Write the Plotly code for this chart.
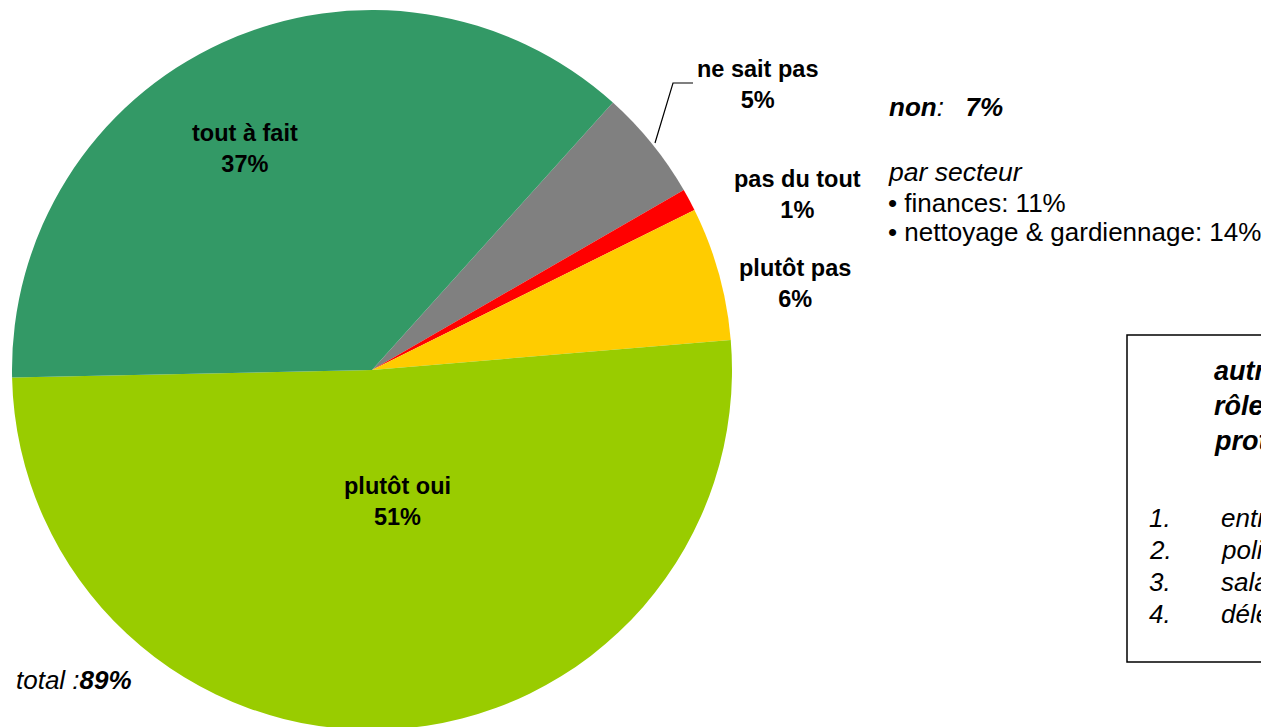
import plotly.graph_objects as go

# Daten der Torte (im Uhrzeigersinn, ab "ne sait pas")
categories = ["ne sait pas", "pas du tout", "plutôt pas", "plutôt oui", "tout à fait"]
values = [5, 1, 6, 51, 37]
colors = ["#808080", "#FF0000", "#FFCC00", "#99CC00", "#339966"]

# Texte rechts
non_total = "7%"
oui_total = "89%"
secteurs = ["finances: 11%", "nettoyage & gardiennage: 14%"]
box_title = ["autres acteurs ayant un", "rôle dans la", "protection"]
box_items = ["entreprise", "politique", "salariés", "délégués"]

W, H = 1269, 727
OFF = 8  # Seitenrand des Browsers
FONT = "Liberation Sans"


def px(x, y):
    # Pixel (Bildschirm) -> Papierkoordinaten
    return (x - OFF) / W, 1 - (y - OFF) / H


fig = go.Figure(go.Pie(
    labels=categories,
    values=values,
    sort=False,
    direction="clockwise",
    rotation=42,
    marker=dict(colors=colors, line=dict(width=0)),
    textinfo="none",
    hoverinfo="label+percent",
    domain=dict(x=[(12 - OFF) / W, (732 - OFF) / W], y=[5 / H, 1 - 2 / H]),
    showlegend=False,
))

# Beschriftungen der Segmente (Mitte der zwei Zeilen)
label_pos = {
    "ne sait pas": (757, 84),
    "pas du tout": (797, 194),
    "plutôt pas": (795, 283),
    "plutôt oui": (397, 502),
    "tout à fait": (245, 148),
}
annotations = []
for cat, val in zip(categories, values):
    x, y = px(*label_pos[cat])
    annotations.append(dict(
        x=x, y=y, xref="paper", yref="paper", showarrow=False,
        text=f"<b>{cat}</b><br><b>{val}%</b>",
        font=dict(family=FONT, size=23.5, color="black"),
        xanchor="center", yanchor="middle", align="center",
    ))

def add_text(x, y, text, size, xanchor="left"):
    xp, yp = px(x, y)
    annotations.append(dict(
        x=xp, y=yp, xref="paper", yref="paper", showarrow=False,
        text=text, font=dict(family=FONT, size=size, color="black"),
        xanchor=xanchor, yanchor="middle", align="left",
    ))

add_text(887, 107, "<b><i>non</i></b><i>:\u00a0\u00a0\u00a0</i><b><i>" + non_total + "</i></b>", 26)
add_text(886, 172, "<i>par secteur</i>", 26.5)
for i, s in enumerate(secteurs):
    add_text(886, 203 + i * 29, "• " + s, 26)
add_text(14, 680, "<i>total :</i><b><i>" + oui_total + "</i></b>", 26)

for i, t in enumerate(box_title):
    add_text(1212, 371 + i * 35, "<b><i>" + t + "</i></b>", 27)
for i, t in enumerate(box_items):
    add_text(1147, 518 + i * 32, f"<i>{i + 1}.</i>", 26)
    add_text(1219, 518 + i * 32, "<i>" + t + "</i>", 26)

# Linien: Rahmen und Führungslinie
bx0, by0 = px(1127, 662)
bx1, by1 = px(1127, 335)
p0, p1, p2 = px(655, 143), px(673, 83), px(693, 83)
shapes = [
    dict(type="rect", xref="paper", yref="paper",
         x0=bx0, x1=1.3, y0=by0, y1=by1,
         line=dict(color="black", width=1.5)),
    dict(type="path", xref="paper", yref="paper",
         path=f"M {p0[0]},{p0[1]} L {p1[0]},{p1[1]} L {p2[0]},{p2[1]}",
         line=dict(color="black", width=1.2)),
]

fig.update_layout(
    width=W, height=H,
    margin=dict(l=0, r=0, t=0, b=0),
    paper_bgcolor="white", plot_bgcolor="white",
    annotations=annotations, shapes=shapes,
)

fig.write_html("out.html")
